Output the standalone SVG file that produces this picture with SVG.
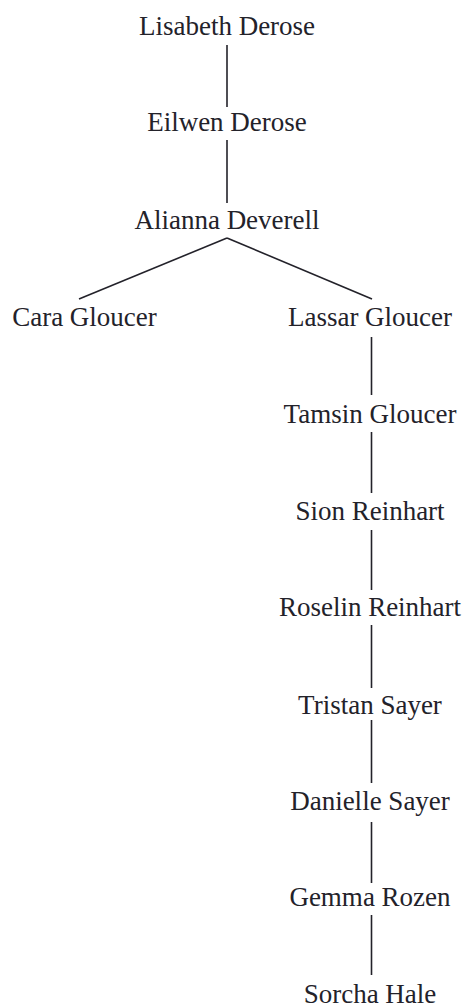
<svg xmlns="http://www.w3.org/2000/svg" width="466" height="1007" viewBox="0 0 466 1007">
<style>
.n text{font-family:"Liberation Serif","Times New Roman",serif;font-size:27px;fill:#23222a;text-anchor:middle}
.c line{stroke:#23222a;stroke-width:1.6;fill:none}
</style>
<rect width="466" height="1007" fill="#ffffff"/>
<g id="connectors" class="c">
<line x1="227" y1="45" x2="227" y2="107"/>
<line x1="227" y1="140" x2="227" y2="203"/>
<line x1="227" y1="238" x2="79" y2="299"/>
<line x1="227" y1="238" x2="372" y2="299"/>
<line x1="371.5" y1="337" x2="371.5" y2="395"/>
<line x1="371.5" y1="432" x2="371.5" y2="493"/>
<line x1="371.5" y1="530" x2="371.5" y2="590"/>
<line x1="371.5" y1="625" x2="371.5" y2="688"/>
<line x1="371.5" y1="720" x2="371.5" y2="783"/>
<line x1="371.5" y1="822" x2="371.5" y2="883"/>
<line x1="371.5" y1="915" x2="371.5" y2="975"/>
</g>
<g id="n-lisabeth" class="n"><text x="227" y="35">Lisabeth Derose</text></g>
<g id="n-eilwen" class="n"><text x="227" y="131">Eilwen Derose</text></g>
<g id="n-alianna" class="n"><text x="227" y="229">Alianna Deverell</text></g>
<g id="n-cara" class="n"><text x="84.5" y="326">Cara Gloucer</text></g>
<g id="n-lassar" class="n"><text x="370" y="326">Lassar Gloucer</text></g>
<g id="n-tamsin" class="n"><text x="370" y="423">Tamsin Gloucer</text></g>
<g id="n-sion" class="n"><text x="370" y="520">Sion Reinhart</text></g>
<g id="n-roselin" class="n"><text x="370" y="616">Roselin Reinhart</text></g>
<g id="n-tristan" class="n"><text x="370" y="714">Tristan Sayer</text></g>
<g id="n-danielle" class="n"><text x="370" y="810">Danielle Sayer</text></g>
<g id="n-gemma" class="n"><text x="370" y="906">Gemma Rozen</text></g>
<g id="n-sorcha" class="n"><text x="370" y="1003">Sorcha Hale</text></g>
</svg>
